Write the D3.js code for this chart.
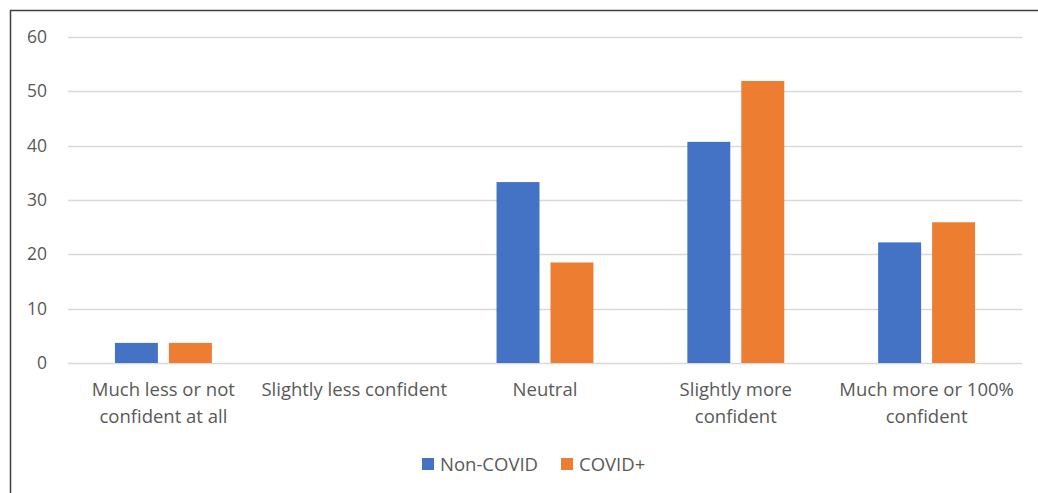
<!DOCTYPE html>
<html lang="en">
<head>
  <meta charset="UTF-8">
  <title>Confidence chart</title>
  <script src="https://d3js.org/d3.v7.min.js"></script>
  <style>
    body { margin: 0; background: #fff; }
    text { font-family: "Open Sans", sans-serif; fill: #595959; }
  </style>
</head>
<body>
  <svg></svg>
  <script>
    const categories = [
      ["Much less or not", "confident at all"],
      ["Slightly less confident"],
      ["Neutral"],
      ["Slightly more", "confident"],
      ["Much more or 100%", "confident"]
    ];
    const seriesNames = ["Non-COVID", "COVID+"];
    const nonCovid = [3.7, 0, 33.3, 40.7, 22.2];
    const covidPos = [3.7, 0, 18.5, 51.9, 25.9];
    const yTicks = [0, 10, 20, 30, 40, 50, 60];
    const colors = ["#4472c4", "#ed7d31"];

    const width = 1038, height = 493;
    const svg = d3.select("svg").attr("width", width).attr("height", height);

    // chart border
    svg.append("rect")
      .attr("x", 10.5).attr("y", 10.5)
      .attr("width", 1040).attr("height", 500)
      .attr("fill", "none").attr("stroke", "#404040").attr("stroke-width", 1.5);

    const x0 = d3.scaleBand().domain(d3.range(categories.length)).range([68, 1022]);
    const x1 = d3.scaleBand().domain([0, 1]).range([0, x0.bandwidth()]).paddingInner(0.204).paddingOuter(0.87);
    const y = d3.scaleLinear().domain([0, 60]).range([363, 37]);

    // gridlines
    svg.append("g").selectAll("line")
      .data(yTicks)
      .enter().append("line")
      .attr("x1", 68).attr("x2", 1022)
      .attr("y1", d => Math.round(y(d)) + 0.5).attr("y2", d => Math.round(y(d)) + 0.5)
      .attr("stroke", "#d9d9d9").attr("stroke-width", 1.3);

    // y tick labels
    svg.append("g").selectAll("text")
      .data(yTicks)
      .enter().append("text")
      .attr("x", 47).attr("y", d => y(d) + 6)
      .attr("text-anchor", "end")
      .attr("font-size", 17.5)
      .text(d => d);

    const data = categories.map((c, i) => [nonCovid[i], covidPos[i]]);

    // bars
    const groups = svg.append("g").selectAll("g")
      .data(data)
      .enter().append("g")
      .attr("transform", (d, i) => `translate(${x0(i)},0)`);

    groups.selectAll("rect")
      .data(d => d)
      .enter().append("rect")
      .attr("x", (d, j) => x1(j))
      .attr("width", x1.bandwidth())
      .attr("y", d => y(d))
      .attr("height", d => y(0) - y(d))
      .attr("fill", (d, j) => colors[j]);

    // category labels
    svg.append("g").selectAll("text")
      .data(categories)
      .enter().append("text")
      .attr("x", (d, i) => x0(i) + x0.bandwidth() / 2)
      .attr("y", 396)
      .attr("text-anchor", "middle")
      .attr("font-size", 18.5)
      .each(function(d) {
        d3.select(this).selectAll("tspan")
          .data(d)
          .enter().append("tspan")
          .attr("x", d3.select(this).attr("x"))
          .attr("dy", (t, k) => k === 0 ? 0 : 27)
          .text(t => t);
      });

    // legend
    const legendX = [422, 561];
    const legend = svg.append("g").selectAll("g")
      .data(seriesNames)
      .enter().append("g")
      .attr("transform", (d, i) => `translate(${legendX[i]},458)`);
    legend.append("rect")
      .attr("width", 12).attr("height", 12)
      .attr("fill", (d, i) => colors[i]);
    legend.append("text")
      .attr("x", 18).attr("y", 12.5)
      .attr("font-size", 18.5)
      .text(d => d);
  </script>
</body>
</html>
